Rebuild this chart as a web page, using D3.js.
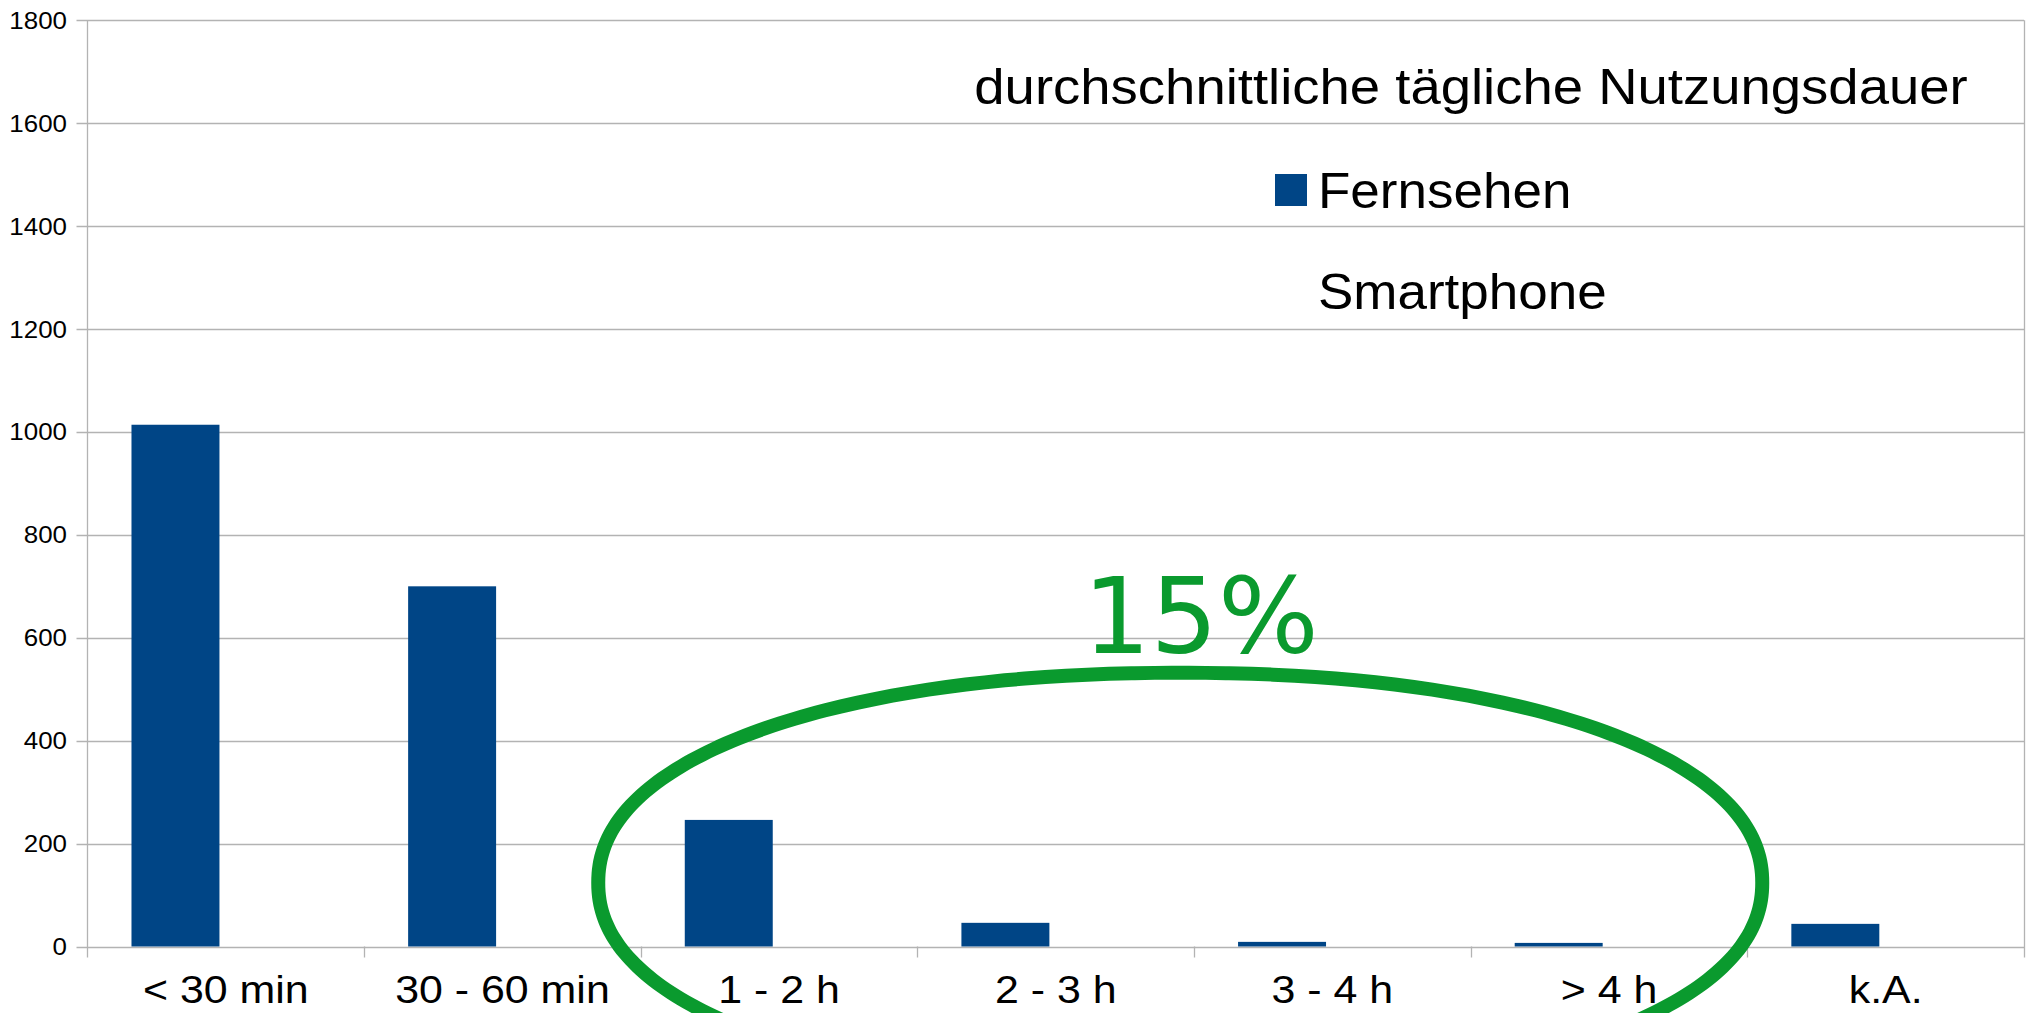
<!DOCTYPE html>
<html>
<head>
<meta charset="utf-8">
<script src="https://cdn.jsdelivr.net/npm/d3@7"></script>
<style>
    body { margin: 0; background: #fff; }
    svg { display: block; }
    text { font-family: "Liberation Sans", Arial, sans-serif; fill: #000; }
</style>
</head>
<body>
<svg width="2030" height="1013"></svg>
<script>
// data
var categories = ["< 30 min", "30 - 60 min", "1 - 2 h", "2 - 3 h", "3 - 4 h", "> 4 h", "k.A."];
var series = ["Fernsehen", "Smartphone"];
var fernsehen = [1014, 700, 246, 46, 9, 7, 44];
var smartphone = [null, null, null, null, null, null, null];
var yTicks = [0, 200, 400, 600, 800, 1000, 1200, 1400, 1600, 1800];
var title = "durchschnittliche tägliche Nutzungsdauer";
var note = "15%";

var svg = d3.select("svg");
var pLeft = 87.5, pRight = 2024, pTop = 20.3, pBottom = 946.5;

var x = d3.scaleBand().domain(categories).range([pLeft, pRight]);
var bw = x.bandwidth();
var xs = d3.scaleBand().domain(series).range([bw * 0.159, bw * 0.795]);
var y = d3.scaleLinear().domain([0, 1800]).range([pBottom, pTop]);

// text in the picture is a little wider than the font
function label(g, tx, ty, str, size, anchor, sx) {
    return g.append("text")
        .attr("transform", "translate(" + tx + "," + ty + ") scale(" + (sx || 1.1) + ",1)")
        .attr("text-anchor", anchor || "start")
        .style("font-size", size + "px")
        .text(str);
}

// grid
svg.append("g").selectAll("line").data(yTicks).enter().append("line")
    .attr("x1", pLeft - 11).attr("x2", pRight)
    .attr("y1", function (d) { return Math.round(y(d)) + 0.5; })
    .attr("y2", function (d) { return Math.round(y(d)) + 0.5; })
    .style("stroke", "#b3b3b3").style("stroke-width", 1.3);

// category ticks + frame sides
var edges = categories.map(function (c) { return x(c); }).concat([pRight]);
svg.append("g").selectAll("line").data(edges).enter().append("line")
    .attr("x1", function (d) { return Math.round(d) + 0.5; })
    .attr("x2", function (d) { return Math.round(d) + 0.5; })
    .attr("y1", function (d, i) { return (i === 0 || i === edges.length - 1) ? pTop : pBottom; })
    .attr("y2", pBottom + 11)
    .style("stroke", "#b3b3b3").style("stroke-width", 1.3);

// bars
svg.append("g").selectAll("rect").data(fernsehen).enter().append("rect")
    .attr("x", function (d, i) { return x(categories[i]) + xs("Fernsehen"); })
    .attr("y", function (d) { return y(d); })
    .attr("width", xs.bandwidth())
    .attr("height", function (d) { return pBottom - y(d); })
    .style("fill", "#004586");

svg.append("g").selectAll("rect").data(smartphone).enter()
    .filter(function (d) { return d != null; })
    .append("rect")
    .attr("x", function (d, i) { return x(categories[i]) + xs("Smartphone"); })
    .attr("y", function (d) { return y(d); })
    .attr("width", xs.bandwidth())
    .attr("height", function (d) { return pBottom - y(d); })
    .style("fill", "#ff420e");

// y labels
var yl = svg.append("g");
yTicks.forEach(function (t) {
    label(yl, 67, y(t) + 8.5, t, 24, "end", 1.08);
});

// x labels
var xl = svg.append("g");
categories.forEach(function (c) {
    label(xl, x(c) + bw / 2, 1003, c, 39, "middle", 1.1);
});

// title and legend
var lg = svg.append("g");
label(lg, 1471, 104, title, 50, "middle", 1.09);
lg.append("rect").attr("x", 1275).attr("y", 174).attr("width", 32).attr("height", 32)
    .style("fill", "#004586");
label(lg, 1318, 208, series[0], 50, "start", 1.06);
label(lg, 1318, 309, series[1], 50, "start", 1.06);

// annotation: rounded loop around the small categories
var cx = x("2 - 3 h") + bw * 0.95, cy = y(124);
var rx = 582, ry = y(124) - y(532), n = 2.15;
var pts = d3.range(0, 360, 2).map(function (a) {
    var t = a * Math.PI / 180, c = Math.cos(t), s = Math.sin(t);
    return [cx + rx * Math.sign(c) * Math.pow(Math.abs(c), 2 / n),
            cy + ry * Math.sign(s) * Math.pow(Math.abs(s), 2 / n)];
});
svg.append("path")
    .attr("d", d3.line().curve(d3.curveCardinalClosed)(pts))
    .style("fill", "none").style("stroke", "#0a9a2e").style("stroke-width", 14);

svg.append("text")
    .attr("x", 1083).attr("y", 653)
    .style("font-family", "DejaVu Sans").style("font-size", "106px")
    .style("fill", "#0a9a2e")
    .text(note);
</script>
</body>
</html>
